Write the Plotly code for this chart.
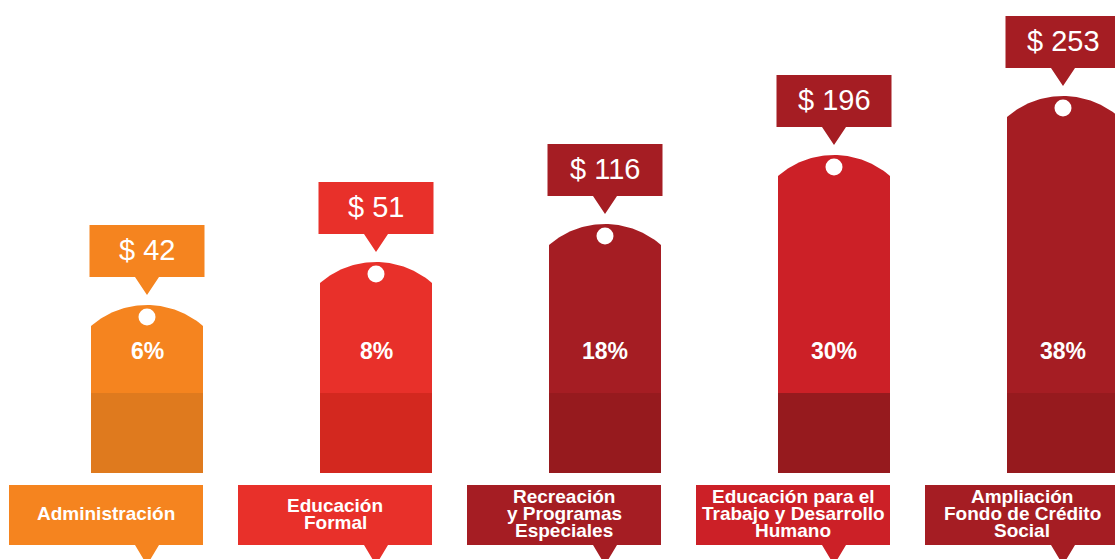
import numpy as np
import plotly.graph_objects as go

# data
categories = ["Administración",
              "Educación<br>Formal",
              "Recreación<br>y Programas<br>Especiales",
              "Educación para el<br>Trabajo y Desarrollo<br>Humano",
              "Ampliación<br>Fondo de Crédito<br>Social"]
amounts = [42, 51, 116, 196, 253]
shares = [6, 8, 18, 30, 38]
tag_levels = [168, 211, 249, 318, 377]   # height of each tag as drawn

tag_colors = ["#F5841F", "#E8302A", "#A51D23", "#CC2027", "#A51D23"]
base_colors = ["#DF7A1E", "#D3281F", "#961A1E", "#961A1E", "#961A1E"]
callout_colors = ["#F5841F", "#E8302A", "#A51D23", "#A51D23", "#A51D23"]
label_colors = ["#F5841F", "#E8302A", "#A51D23", "#CC2027", "#A51D23"]

W, H = 1115, 559
FONT = "Liberation Sans, Arial, Helvetica, sans-serif"

# layout constants (pixels)
slot0, step = 91, 229
tag_w = 112
y0 = 86          # bottom of tags
base_h = 80      # darker lower band
sag = 21         # arc height of the tag top
box_w, box_h = 115, 52
lab_w, lab_bot, lab_top = 194, 14, 74

fig = go.Figure()
annotations = []


def poly(xs, ys, color):
    fig.add_trace(go.Scatter(x=xs, y=ys, fill="toself", fillcolor=color,
                             mode="lines", line=dict(width=0, color=color),
                             hoverinfo="skip", showlegend=False))


for i, (cat, amt, sh, lev) in enumerate(zip(categories, amounts, shares, tag_levels)):
    left = slot0 + i * step
    right = left + tag_w
    cx = (left + right) / 2
    ya = y0 + lev
    ys = ya - sag

    # tag body with arched top
    hw = tag_w / 2
    R = (hw ** 2 + sag ** 2) / (2 * sag)
    t0 = np.arcsin(hw / R)
    t = np.linspace(-t0, t0, 60)
    arc_x = cx + R * np.sin(t)
    arc_y = ya - R + R * np.cos(t)
    xs = [left, left] + list(arc_x) + [right, right, left]
    yv = [y0, ys] + list(arc_y) + [ys, y0, y0]
    poly(xs, yv, tag_colors[i])

    # darker lower band
    poly([left, left, right, right, left], [y0, y0 + base_h, y0 + base_h, y0, y0], base_colors[i])

    # hole
    fig.add_trace(go.Scatter(x=[cx], y=[ya - 12], mode="markers",
                             marker=dict(size=17, color="white", line=dict(width=0)),
                             hoverinfo="skip", showlegend=False))

    # value callout
    yb = ya + 28
    bl, br = cx - box_w / 2, cx + box_w / 2
    poly([bl, bl, br, br, cx + 12, cx, cx - 12, bl],
         [yb, yb + box_h, yb + box_h, yb, yb, ya + 10, yb, yb], callout_colors[i])
    annotations.append(dict(x=cx, y=yb + box_h / 2 + 1, text=f"$ {amt}", showarrow=False,
                            font=dict(family=FONT, size=29, color="white"),
                            xanchor="center", yanchor="middle"))

    # percentage
    annotations.append(dict(x=cx, y=208, text=f"<b>{sh}%</b>", showarrow=False,
                            font=dict(family=FONT, size=23, color="white"),
                            xanchor="center", yanchor="middle"))

    # category label box with pointer
    ll, lr = right - lab_w, right
    poly([ll, ll, lr, lr, cx + 12, cx, cx - 12, ll],
         [lab_bot, lab_top, lab_top, lab_bot, lab_bot, lab_bot - 20, lab_bot, lab_bot],
         label_colors[i])
    lines = cat.split("<br>")
    mid = 45.5
    for k, ln in enumerate(lines):
        yl = mid + 17 * ((len(lines) - 1) / 2 - k)
        annotations.append(dict(x=(ll + lr) / 2, y=yl, text=f"<b>{ln}</b>", showarrow=False,
                                font=dict(family=FONT, size=19, color="white"),
                                xanchor="center", yanchor="middle"))

fig.update_layout(
    width=W, height=H,
    margin=dict(l=0, r=0, t=0, b=0),
    paper_bgcolor="white", plot_bgcolor="white",
    xaxis=dict(range=[0, W], visible=False, fixedrange=True),
    yaxis=dict(range=[0, H], visible=False, fixedrange=True),
    annotations=annotations,
    showlegend=False,
)

# drop the default page margin so the figure fills the window
fig.write_html("out.html", config={"displayModeBar": False},
               post_script="document.body.style.margin='0';document.body.style.overflow='hidden';")
